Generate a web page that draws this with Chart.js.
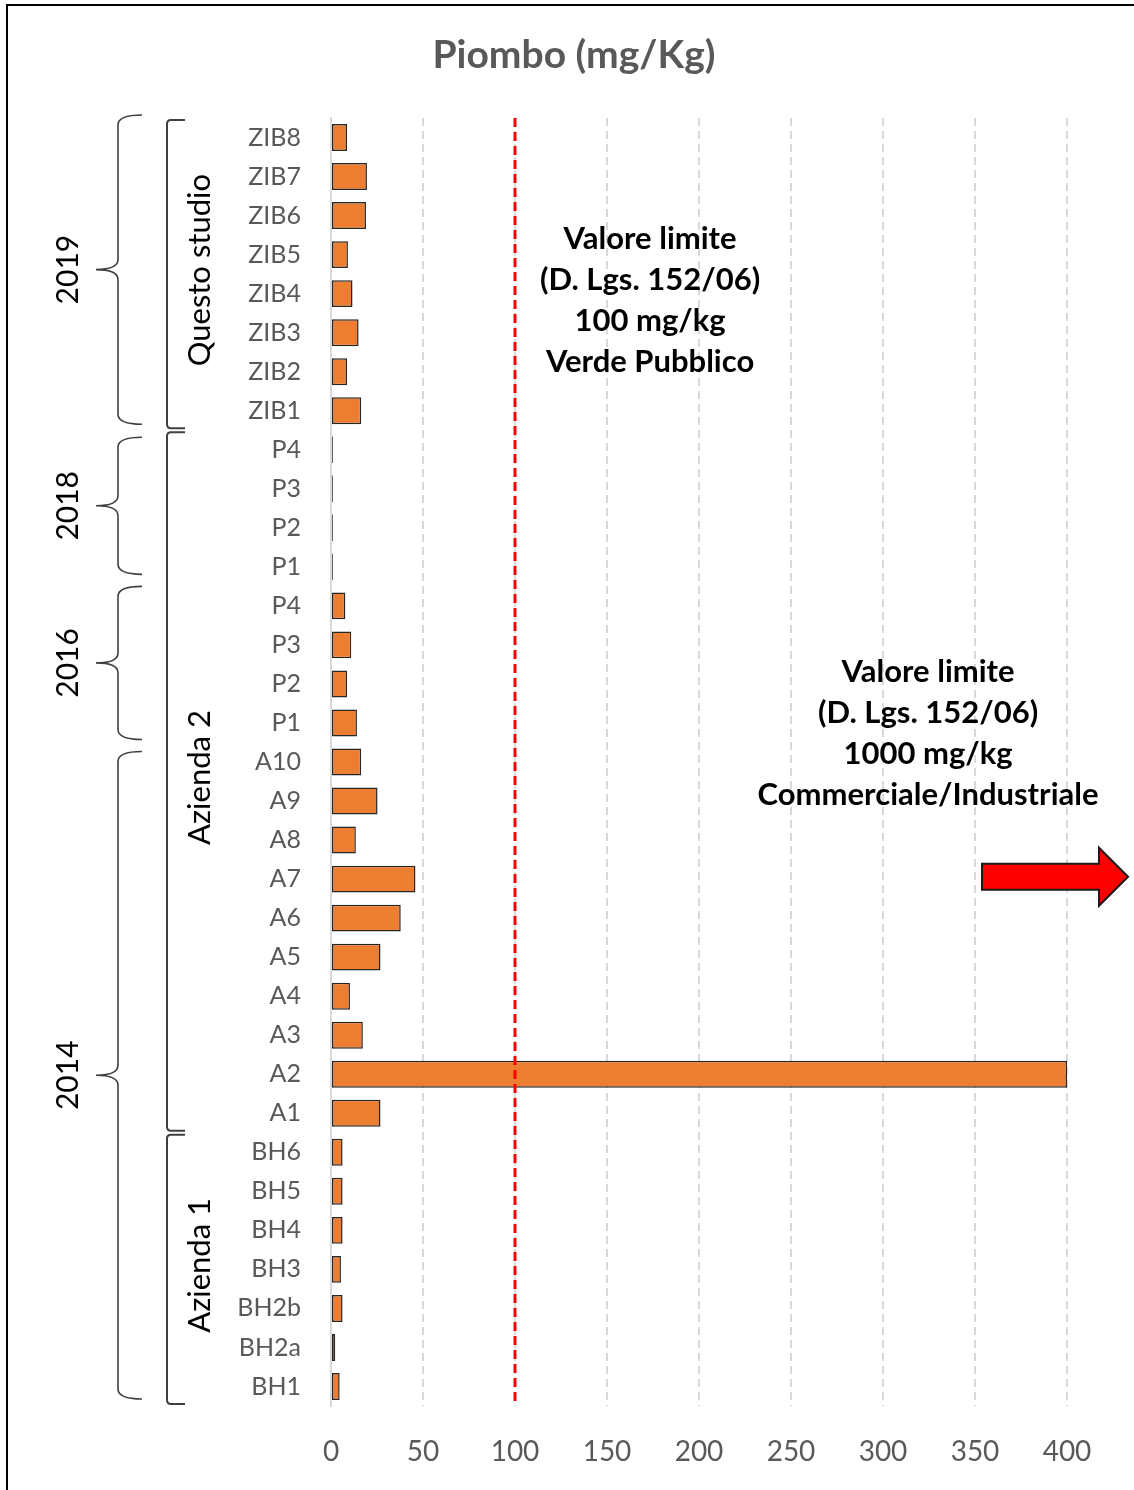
<!DOCTYPE html>
<html>
<head>
<meta charset="utf-8">
<title>Piombo (mg/Kg)</title>
<script src="https://cdn.jsdelivr.net/npm/chart.js@4.4.1/dist/chart.umd.min.js"></script>
<style>
  body { margin: 0; background: #fff; }
  canvas { display: block; }
</style>
</head>
<body>
<canvas id="piombo-chart" width="1134" height="1490"></canvas>
<script>
// Data
const chartTitle = "Piombo (mg/Kg)";
const sampleLabels = [
  "ZIB8", "ZIB7", "ZIB6", "ZIB5", "ZIB4", "ZIB3", "ZIB2", "ZIB1",
  "P4", "P3", "P2", "P1",
  "P4", "P3", "P2", "P1",
  "A10", "A9", "A8", "A7", "A6", "A5", "A4", "A3", "A2", "A1",
  "BH6", "BH5", "BH4", "BH3", "BH2b", "BH2a", "BH1"
];
const leadValues = [
  8.7, 19.5, 19, 9.2, 11.7, 15, 8.7, 16.4,
  1, 1, 1, 1,
  7.8, 11, 8.7, 14.1,
  16.4, 25.3, 13.5, 45.9, 37.9, 26.9, 10.3, 17.3, 400, 26.9,
  6.3, 6.3, 6.3, 5.4, 6.3, 2.3, 4.7
];
const xTicks = [0, 50, 100, 150, 200, 250, 300, 350, 400];

// Groups on the left (first and last row index)
const yearGroups = [
  { label: "2019", from: 0, to: 7 },
  { label: "2018", from: 8, to: 11 },
  { label: "2016", from: 12, to: 15 },
  { label: "2014", from: 16, to: 32 }
];
const siteGroups = [
  { label: "Questo studio", from: 0, to: 7 },
  { label: "Azienda 2", from: 8, to: 25 },
  { label: "Azienda 1", from: 26, to: 32 }
];

// Reference limits
const limitVerde = 100;
const noteVerde = ["Valore limite", "(D. Lgs. 152/06)", "100 mg/kg", "Verde Pubblico"];
const noteIndustriale = ["Valore limite", "(D. Lgs. 152/06)", "1000 mg/kg", "Commerciale/Industriale"];

const FONT = "Lato, 'Open Sans', sans-serif";
// brace insets (top, bottom) in px, hand drawn look of the original
const braceInsets = [[-3, 6], [7, 12], [0, 3], [9, 7]];

// Draws title, frame, brackets, limit line, notes and arrow
const decorations = {
  id: "decorations",
  afterDatasetsDraw(chart) {
    const { ctx, chartArea, scales } = chart;
    const x = scales.x;
    const y = scales.y;
    const step = y.getPixelForValue(1) - y.getPixelForValue(0);
    const rowTop = (i) => y.getPixelForValue(i) - step / 2;
    const rowBottom = (i) => y.getPixelForValue(i) + step / 2;

    ctx.save();

    // title
    ctx.fillStyle = "#595959";
    ctx.font = "bold 39px " + FONT;
    ctx.textAlign = "center";
    ctx.textBaseline = "middle";
    ctx.fillText(chartTitle, 574, 55);

    // red dashed limit line
    const xl = x.getPixelForValue(limitVerde);
    ctx.strokeStyle = "#ff0000";
    ctx.lineWidth = 3;
    ctx.setLineDash([9, 5]);
    ctx.beginPath();
    ctx.moveTo(xl, chartArea.top);
    ctx.lineTo(xl, chartArea.bottom);
    ctx.stroke();
    ctx.setLineDash([]);

    // notes
    ctx.fillStyle = "#000";
    ctx.font = "bold 31px " + FONT;
    noteVerde.forEach((line, i) => {
      ctx.fillText(line, x.getPixelForValue(173.4), y.getPixelForValue(2.61) + i * 41);
    });
    noteIndustriale.forEach((line, i) => {
      ctx.fillText(line, x.getPixelForValue(324.5), y.getPixelForValue(13.7) + i * 41);
    });

    // red arrow pointing to the 1000 limit
    const ay = y.getPixelForValue(18.94);
    const ax0 = x.getPixelForValue(353.8);
    const ax1 = x.getPixelForValue(417.4);
    const ax2 = x.getPixelForValue(433.2);
    ctx.beginPath();
    ctx.moveTo(ax0, ay - 13);
    ctx.lineTo(ax1, ay - 13);
    ctx.lineTo(ax1, ay - 29);
    ctx.lineTo(ax2, ay);
    ctx.lineTo(ax1, ay + 29);
    ctx.lineTo(ax1, ay + 13);
    ctx.lineTo(ax0, ay + 13);
    ctx.closePath();
    ctx.fillStyle = "#ff0000";
    ctx.fill();
    ctx.strokeStyle = "#1a1a1a";
    ctx.lineWidth = 2;
    ctx.stroke();

    // curly braces for the years
    ctx.strokeStyle = "#3f3f3f";
    ctx.lineWidth = 1.6;
    const xr = 142, xv = 118, xt = 96, r = 10;
    yearGroups.forEach((g, k) => {
      const top = rowTop(g.from) + braceInsets[k][0];
      const bot = rowBottom(g.to) - braceInsets[k][1];
      const mid = (top + bot) / 2;
      ctx.beginPath();
      ctx.moveTo(xr, top);
      ctx.quadraticCurveTo(xv, top, xv, top + r);
      ctx.lineTo(xv, mid - r);
      ctx.quadraticCurveTo(xv, mid, xt, mid);
      ctx.quadraticCurveTo(xv, mid, xv, mid + r);
      ctx.lineTo(xv, bot - r);
      ctx.quadraticCurveTo(xv, bot, xr, bot);
      ctx.stroke();

      ctx.save();
      ctx.translate(68, mid);
      ctx.rotate(-Math.PI / 2);
      ctx.fillStyle = "#000";
      ctx.font = "30px " + FONT;
      ctx.fillText(g.label, 0, 0);
      ctx.restore();
    });

    // square brackets for the sites
    ctx.lineWidth = 2;
    const bx = 167, be = 185, br = 4;
    siteGroups.forEach((g) => {
      const top = rowTop(g.from) + 2;
      const bot = rowBottom(g.to) - 2;
      const mid = (top + bot) / 2;
      ctx.beginPath();
      ctx.moveTo(be, top);
      ctx.lineTo(bx + br, top);
      ctx.quadraticCurveTo(bx, top, bx, top + br);
      ctx.lineTo(bx, bot - br);
      ctx.quadraticCurveTo(bx, bot, bx + br, bot);
      ctx.lineTo(be, bot);
      ctx.stroke();

      ctx.save();
      ctx.translate(200, mid - 4);
      ctx.rotate(-Math.PI / 2);
      ctx.fillStyle = "#000";
      ctx.font = "31px " + FONT;
      ctx.fillText(g.label, 0, 0);
      ctx.restore();
    });

    // frame
    ctx.strokeStyle = "#000";
    ctx.lineWidth = 2;
    ctx.beginPath();
    ctx.moveTo(7, chart.height);
    ctx.lineTo(7, 5);
    ctx.lineTo(chart.width, 5);
    ctx.stroke();

    ctx.restore();
  }
};

const chart = new Chart(document.getElementById("piombo-chart"), {
  type: "bar",
  data: {
    labels: sampleLabels,
    datasets: [
      {
        data: leadValues,
        backgroundColor: "#ed7d31",
        borderColor: "#262626",
        borderWidth: 1.5,
        borderSkipped: false,
        barPercentage: 0.69,
        categoryPercentage: 1
      }
    ]
  },
  options: {
    indexAxis: "y",
    responsive: false,
    animation: false,
    layout: { padding: { left: 0, right: 67, top: 118, bottom: 0 } },
    plugins: {
      legend: { display: false },
      tooltip: { enabled: false },
      title: { display: false }
    },
    scales: {
      x: {
        min: 0,
        max: 400,
        afterBuildTicks: (scale) => {
          scale.ticks = xTicks.map((v) => ({ value: v }));
        },
        afterFit: (scale) => {
          scale.height = 84;
        },
        ticks: {
          color: "#595959",
          font: { family: FONT, size: 28 },
          padding: 29
        },
        grid: {
          drawTicks: false,
          lineWidth: 2,
          color: (c) => (c.tick && c.tick.value === 0 ? "rgba(0,0,0,0)" : "#d9d9d9")
        },
        border: { display: false, dash: [8, 5] }
      },
      y: {
        afterFit: (scale) => {
          scale.width = 331;
        },
        ticks: {
          color: "#595959",
          font: { family: FONT, size: 25 },
          padding: 30,
          autoSkip: false
        },
        grid: { display: false, drawTicks: false },
        border: { display: true, color: "#d9d9d9", width: 2 }
      }
    }
  },
  plugins: [decorations]
});
</script>
</body>
</html>
